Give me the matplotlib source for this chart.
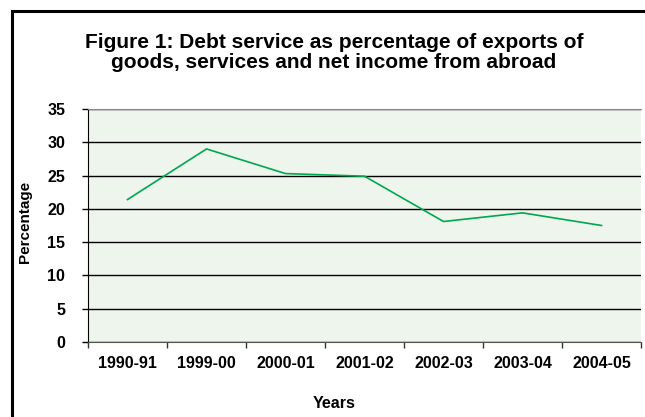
import matplotlib.pyplot as plt
from matplotlib.patches import Rectangle

years = ['1990-91', '1999-00', '2000-01', '2001-02', '2002-03', '2003-04', '2004-05']
debt_service = [21.4, 29.0, 25.3, 24.9, 18.1, 19.4, 17.5]
yticks = [0, 5, 10, 15, 20, 25, 30, 35]
title = ('Figure 1: Debt service as percentage of exports of\n'
         'goods, services and net income from abroad')

plt.rcParams['font.family'] = 'Liberation Sans'
plt.rcParams['font.weight'] = 'bold'

fig = plt.figure(figsize=(6.45, 4.17), dpi=100)
W, H = 645, 417

# outer frame of the chart object
fig.patches.append(Rectangle((12 / W, -0.1), 1.2, (H - 11) / H + 0.1, transform=fig.transFigure,
                             fill=False, edgecolor='black', linewidth=2.2))

ax = fig.add_axes([88 / W, (H - 342) / H, (641 - 88) / W, (342 - 109) / H])
ax.set_facecolor('#eef5ec')

x = list(range(len(years)))
ax.plot(x, debt_service, color='#00a651', linewidth=1.2)

ax.set_xlim(-0.5, len(years) - 0.5)
ax.set_ylim(0, 35)
ax.set_yticks(yticks)
ax.yaxis.grid(True, color='black', linewidth=1.0)
ax.set_axisbelow(True)

ax.set_xticks(x)
ax.set_xticklabels(years, fontsize=11.5, fontweight='bold')
ax.set_xticks([i - 0.5 for i in range(len(years) + 1)], minor=True)
ax.tick_params(axis='x', which='major', length=0, pad=10)
ax.tick_params(axis='x', which='minor', length=4.5, width=1, color='#333333', direction='out')
ax.tick_params(axis='y', length=4.3, width=1, direction='out', labelsize=11.5, pad=12)
for lab in ax.get_yticklabels():
    lab.set_fontweight('bold')

ax.spines['right'].set_visible(False)
ax.spines['top'].set_color('#888888')
ax.spines['left'].set_color('black')
ax.spines['bottom'].set_color('#555555')

# two-line title; the baseline of the bottom line sets its position
fig.text(334 / W, 1 - 67.5 / H, title, ha='center', va='baseline', fontsize=15,
         fontweight='bold', linespacing=1.0, multialignment='center')
fig.text(25 / W, 1 - 222 / H, 'Percentage', rotation=90, ha='center', va='center', fontsize=11, fontweight='bold')
fig.text(334 / W, 1 - 403 / H, 'Years', ha='center', va='center', fontsize=11.5, fontweight='bold')

fig.savefig('out.png', dpi=100)
